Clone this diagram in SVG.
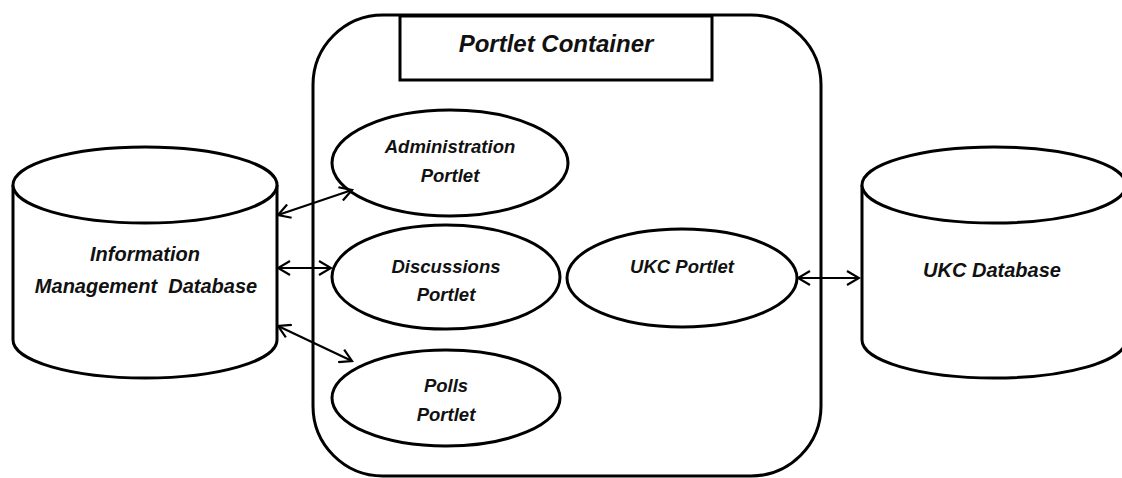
<svg xmlns="http://www.w3.org/2000/svg" width="1122" height="478" viewBox="0 0 1122 478">
<style>
.s{fill:#fff;stroke:#000;stroke-width:3}
.t{font-family:"Liberation Sans",Arial,sans-serif;font-weight:bold;font-style:italic;fill:#111;text-anchor:middle}
.p{font-size:18.5px}
.d{font-size:20px}
.c{stroke:#000;stroke-width:2.2;fill:none;marker-start:url(#ah);marker-end:url(#ah)}
</style>
<defs>
<marker id="ah" viewBox="0 0 16 16" refX="14" refY="8" markerWidth="16" markerHeight="16" markerUnits="userSpaceOnUse" orient="auto-start-reverse">
<path d="M2,1 L14,8 L2,15" fill="none" stroke="#000" stroke-width="2.2"/>
</marker>
</defs>
<g id="portlet-container">
<rect class="s" x="313" y="15" width="508" height="461" rx="70" ry="70"/>
<rect class="s" x="400" y="16" width="312" height="64"/>
<text class="t" x="556" y="52" font-size="24">Portlet Container</text>
</g>
<g id="administration-portlet">
<ellipse class="s" cx="450" cy="163" rx="118" ry="53"/>
<text class="t p" x="450" y="153">Administration</text>
<text class="t p" x="450" y="182">Portlet</text>
</g>
<g id="discussions-portlet">
<ellipse class="s" cx="446" cy="277" rx="114" ry="52"/>
<text class="t p" x="446" y="273">Discussions</text>
<text class="t p" x="446" y="301">Portlet</text>
</g>
<g id="polls-portlet">
<ellipse class="s" cx="446" cy="398" rx="114" ry="48"/>
<text class="t p" x="446" y="392">Polls</text>
<text class="t p" x="446" y="421">Portlet</text>
</g>
<g id="ukc-portlet">
<ellipse class="s" cx="682" cy="278" rx="115" ry="49"/>
<text class="t p" x="682" y="273">UKC Portlet</text>
</g>
<g id="information-management-database">
<path class="s" d="M13,185 L13,340 A132,38 0 0,0 277,340 L277,185"/>
<ellipse class="s" cx="145" cy="185" rx="132" ry="38"/>
<text class="t d" x="145" y="261">Information</text>
<text class="t d" x="146" y="293" xml:space="preserve">Management  Database</text>
</g>
<g id="ukc-database">
<path class="s" d="M862,185 L862,340 A132,38 0 0,0 1126,340 L1126,185"/>
<ellipse class="s" cx="994" cy="185" rx="132" ry="38"/>
<text class="t d" x="992" y="277">UKC Database</text>
</g>
<g id="connectors">
<line class="c" x1="278" y1="215" x2="352" y2="190"/>
<line class="c" x1="278" y1="268" x2="331" y2="268"/>
<line class="c" x1="278" y1="326" x2="352" y2="361"/>
<line class="c" x1="798" y1="278" x2="859" y2="278"/>
</g>
</svg>
